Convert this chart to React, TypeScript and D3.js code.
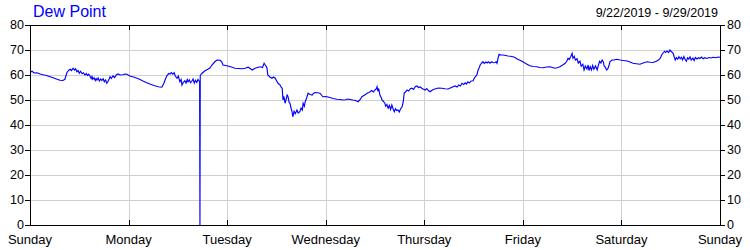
import React from "react";
import * as d3 from "d3";

const title = "Dew Point";
const dateRange = "9/22/2019 - 9/29/2019";
const dayLabels = ["Sunday", "Monday", "Tuesday", "Wednesday", "Thursday", "Friday", "Saturday", "Sunday"];
const yTicks = [0, 10, 20, 30, 40, 50, 60, 70, 80];

// hours since Sunday 00:00
const hours = [
  0, 0.5, 1.0, 1.7, 2.5, 3.2, 4.0, 4.9, 5.8, 6.6, 7.3, 8.0, 8.5, 9.0, 9.5,
  9.8, 10.1, 10.5, 10.8, 11.1, 11.4, 11.7, 12.0, 12.3, 12.7, 13.0, 13.4, 13.7, 14.0, 14.3, 14.6, 14.9, 15.1, 15.3, 15.6, 15.9, 16.1, 16.3, 16.6, 16.9, 17.2, 17.5, 17.8, 18.1, 18.4, 18.7, 19.0, 19.3, 19.5, 19.8, 20.2, 20.6, 21.0, 21.4, 22.0, 22.6, 23.1, 23.6, 24.3, 25.2, 26.1, 26.8, 27.5, 28.3, 29.2, 30.2, 31.2, 32.1, 32.6, 33.0, 33.4,
  33.8, 34.1, 34.4, 34.8, 35.1, 35.4, 35.8, 36.1, 36.5, 36.8, 37.0, 37.3, 37.7, 38.0, 38.3, 38.5, 38.8, 39.1, 39.4, 39.7, 40.0, 40.3, 40.6, 40.9, 41.2, 41.3, 41.38, 41.45,
  41.9, 42.6, 43.3, 43.8, 44.3, 45.0, 45.5, 46.3, 46.7, 47.0, 47.6, 48.2, 49.0, 49.9, 50.8, 51.6, 52.4, 53.1, 53.6, 54.1, 54.8, 55.4, 56.0, 56.6, 57.0, 57.2, 57.5, 57.7, 57.9, 58.4, 58.9, 59.3, 59.7, 60.1, 60.4, 60.9, 61.2, 61.4, 61.6, 61.8, 62.1, 62.4, 62.6, 62.8, 63.1, 63.3, 63.6, 63.8, 64.0, 64.3, 64.6, 65.0, 65.3, 65.7, 66.0, 66.3, 66.5, 66.8, 67.0, 67.4, 67.7, 68.2, 68.7, 69.0, 69.4, 70.0, 70.6, 71.3, 72.1, 73.0, 73.8, 74.7, 75.5, 76.2, 76.8, 77.4, 78.0, 78.6, 79.3, 79.9, 80.4, 80.8, 81.5, 82.1, 82.5, 82.8, 83.2, 83.6, 84.0, 84.3, 84.5, 84.7, 84.9, 85.2, 85.5, 85.7, 86.0, 86.4, 86.6, 86.9, 87.2, 87.5, 87.8, 88.1, 88.4, 88.7, 89.0, 89.3, 89.6, 89.9, 90.2, 90.6, 90.9, 91.1, 91.5, 91.8, 92.2, 92.6, 93.0, 93.4, 93.8, 94.2, 94.6, 95.0, 95.4, 95.8, 96.2, 96.6, 97.0, 97.4, 97.8, 98.2, 98.6, 99.4, 100.3, 101.0, 101.8, 102.6, 103.5, 104.0, 104.4, 104.8, 105.2, 105.6, 106.0, 106.3, 106.6, 107.0, 107.4, 107.9, 108.1, 108.4, 108.8, 109.1, 109.4, 109.6, 110.0, 110.3, 110.6, 111.0, 111.3, 111.6, 112.0, 112.4, 112.8, 113.2, 113.5, 113.7, 114.0, 114.2, 114.6, 115.2, 115.8, 116.4, 117.0, 117.6, 118.1, 118.6, 119.3, 120.0, 120.8, 121.7, 122.5, 123.4, 124.1, 124.9, 125.8, 126.6, 127.2, 127.8, 128.4, 129.0, 129.7, 130.3, 130.7, 131.0, 131.3, 131.7, 132.0, 132.2, 132.5, 132.8, 133.2, 133.5, 133.9, 134.2, 134.6, 134.9, 135.2, 135.6, 135.9, 136.1, 136.4, 136.7, 137.0, 137.3, 137.7, 138.1, 138.4, 138.7, 139.0, 139.3, 139.6, 139.8, 140.0, 140.4, 140.7, 141.0, 141.2, 141.7, 142.2, 142.9, 143.7, 144.5, 145.4, 146.1, 146.8, 147.6, 148.5, 149.3, 150.2, 151.0, 151.7, 152.5, 153.0, 153.4, 153.8, 154.1, 154.5, 154.8, 155.1, 155.5, 155.8, 156.2, 156.6, 156.8, 157.1, 157.4, 157.7, 158.0, 158.3, 158.6, 158.9, 159.2, 159.5, 159.8, 160.1, 160.4, 160.7, 161.0, 161.4, 161.7, 162.0, 162.4, 162.8, 163.1, 163.5, 163.9, 164.3, 164.8, 165.3, 165.8, 166.3, 167.0, 167.5, 168,
];

const dewPoint = [
  61.0, 61.5, 60.8, 60.9, 60.4, 60.1, 59.8, 59.3, 58.8, 58.3, 57.9, 57.8, 58.3, 61.0, 62.0,
  62.3, 61.8, 62.7, 62.0, 62.5, 61.3, 61.8, 60.7, 61.5, 60.5, 60.9, 60.0, 60.6, 59.8, 60.3, 59.6, 58.6, 59.4, 58.3, 58.9, 57.8, 58.6, 58.0, 58.8, 57.6, 58.4, 57.8, 58.5, 57.3, 58.0, 56.7, 57.5, 58.5, 59.3, 58.6, 59.6, 59.0, 60.0, 60.4, 60.0, 60.1, 60.4, 60.3, 59.6, 59.2, 58.7, 58.2, 57.6, 57.0, 56.4, 55.8, 55.3, 55.1, 56.7, 58.5, 59.9,
  60.6, 60.4, 61.0, 60.3, 60.9, 59.5, 58.7, 59.6, 57.3, 58.2, 56.0, 57.0, 57.7, 56.8, 58.2, 57.3, 58.0, 56.9, 57.5, 58.4, 56.8, 57.9, 57.0, 58.2, 57.5, 57.2, 0, 59.8,
  60.7, 61.7, 62.3, 62.8, 64.0, 65.3, 66.0, 65.9, 65.2, 64.0, 63.8, 63.6, 63.2, 62.7, 62.6, 62.5, 62.7, 63.1, 62.6, 62.0, 62.7, 63.0, 63.3, 63.0, 64.7, 64.2, 63.5, 62.7, 60.0, 59.2, 58.7, 59.2, 58.7, 57.5, 56.7, 56.0, 55.0, 54.7, 50.0, 51.5, 48.7, 50.5, 52.0, 51.5, 49.0, 48.7, 46.5, 45.3, 43.3, 45.5, 44.5, 46.0, 44.8, 45.3, 46.8, 46.0, 48.7, 47.5, 49.3, 51.0, 52.7, 52.2, 52.0, 52.6, 53.0, 52.9, 52.7, 51.3, 51.4, 51.0, 50.6, 50.3, 50.2, 50.0, 50.1, 50.4, 50.2, 50.0, 49.8, 49.3, 50.2, 51.3, 52.0, 52.7, 53.0, 53.3, 53.8, 53.2, 54.0, 54.4, 55.3, 53.5, 54.6, 52.0, 51.0, 50.0, 49.5, 48.7, 47.5, 48.2, 46.7, 47.8, 46.2, 48.0, 46.5, 45.3, 46.5, 45.8, 46.0, 45.2, 46.4, 47.3, 49.5, 52.7, 53.4, 54.0, 53.6, 54.5, 54.7, 54.2, 55.3, 55.6, 55.0, 55.2, 54.7, 54.3, 54.0, 54.6, 53.8, 53.3, 53.8, 54.2, 54.4, 54.8, 54.7, 54.5, 54.4, 55.0, 55.6, 55.2, 56.0, 55.6, 56.7, 56.2, 56.9, 56.4, 57.3, 56.8, 57.6, 57.7, 58.5, 59.3, 60.0, 62.0, 63.0, 64.0, 64.8, 65.3, 64.6, 65.2, 64.8, 65.3, 64.7, 65.3, 64.9, 65.0, 65.3, 64.7, 67.0, 68.3, 68.0, 68.0, 67.8, 67.6, 67.5, 67.3, 67.0, 66.4, 65.9, 65.3, 64.5, 63.7, 63.4, 63.3, 63.0, 62.9, 63.2, 63.3, 63.0, 62.7, 62.9, 63.3, 64.0, 64.7, 65.5, 66.7, 66.2, 67.5, 68.7, 66.7, 67.5, 66.0, 66.5, 64.8, 65.5, 63.5, 64.3, 62.0, 63.6, 62.4, 64.0, 61.8, 63.3, 62.0, 63.8, 62.3, 63.6, 62.0, 64.0, 65.5, 64.8, 66.0, 65.2, 63.5, 63.3, 62.0, 62.5, 64.0, 65.3, 66.0, 66.0, 66.3, 66.0, 65.8, 65.6, 65.2, 64.7, 64.5, 64.3, 64.8, 65.3, 65.1, 65.0, 65.5, 66.0, 66.5, 68.0, 68.7, 69.5, 69.0, 69.6, 69.0, 70.0, 69.3, 68.7, 67.5, 66.0, 67.0, 66.3, 67.3, 66.5, 67.1, 66.0, 67.4, 66.3, 65.5, 66.9, 66.4, 67.3, 66.0, 66.8, 65.8, 67.0, 66.4, 66.9, 66.6, 67.2, 66.5, 66.9, 66.6, 67.0, 66.8, 67.1, 66.9, 67.2, 67.1,
];

const W = 750;
const H = 250;
const L = 30;
const R = 720;
const T = 25;
const B = 225;
const FONT = "'Liberation Sans', Arial, sans-serif";

export default function App() {
  const x = d3.scaleLinear().domain([0, 168]).range([L, R]);
  const y = d3.scaleLinear().domain([0, 80]).range([B, T]);
  const data = hours.map((h, i) => [h, dewPoint[i]] as [number, number]);
  const line = d3
    .line<[number, number]>()
    .x((d) => x(d[0]))
    .y((d) => y(d[1]));
  const px = (v: number) => Math.round(v) + 0.5;

  return (
    <svg
      width={W}
      height={H}
      style={{ position: "fixed", left: 0, top: 0, background: "#fff" }}
      fontFamily={FONT}
    >
      <rect x={0} y={0} width={W} height={H} fill="#fff" />
      {/* grid */}
      <g stroke="#d0d0d0" strokeWidth={1} shapeRendering="crispEdges">
        {yTicks.map((t) => (
          <line key={"gy" + t} x1={L} x2={R} y1={px(y(t))} y2={px(y(t))} />
        ))}
        {dayLabels.map((_, i) => (
          <line key={"gx" + i} x1={px(x(i * 24))} x2={px(x(i * 24))} y1={T} y2={B} />
        ))}
      </g>
      {/* data line */}
      <path d={line(data) || ""} fill="none" stroke="#0000ff" strokeWidth={1.15} />
      {/* frame and ticks */}
      <g stroke="#000" strokeWidth={1} shapeRendering="crispEdges" fill="none">
        <rect x={px(L)} y={px(T)} width={Math.round(R) - Math.round(L)} height={Math.round(B) - Math.round(T)} />
        {yTicks.map((t) => (
          <g key={"ty" + t}>
            <line x1={L - 5} x2={L} y1={px(y(t))} y2={px(y(t))} />
            <line x1={R} x2={R + 5} y1={px(y(t))} y2={px(y(t))} />
          </g>
        ))}
        {dayLabels.map((_, i) => (
          <g key={"tx" + i}>
            <line x1={px(x(i * 24))} x2={px(x(i * 24))} y1={B - 5} y2={B} />
            <line x1={px(x(i * 24))} x2={px(x(i * 24))} y1={T} y2={T + 5} />
          </g>
        ))}
      </g>
      {/* y labels */}
      <g fontSize={12.5} fill="#000">
        {yTicks.map((t) => (
          <text key={"ly" + t} x={L - 6} y={y(t)} dy="0.33em" textAnchor="end">
            {t}
          </text>
        ))}
        {yTicks.map((t) => (
          <text key={"ry" + t} x={R + 7} y={y(t)} dy="0.33em" textAnchor="start">
            {t}
          </text>
        ))}
      </g>
      <g fontSize={13} fill="#000">
        {dayLabels.map((d, i) => (
          <text key={"lx" + i} x={x(i * 24)} y={244} textAnchor="middle">
            {d}
          </text>
        ))}
      </g>
      <text x={33} y={17} fontSize={16} fill="#0000ff">
        {title}
      </text>
      <text x={718} y={17} fontSize={12.5} fill="#000" textAnchor="end">
        {dateRange}
      </text>
    </svg>
  );
}
